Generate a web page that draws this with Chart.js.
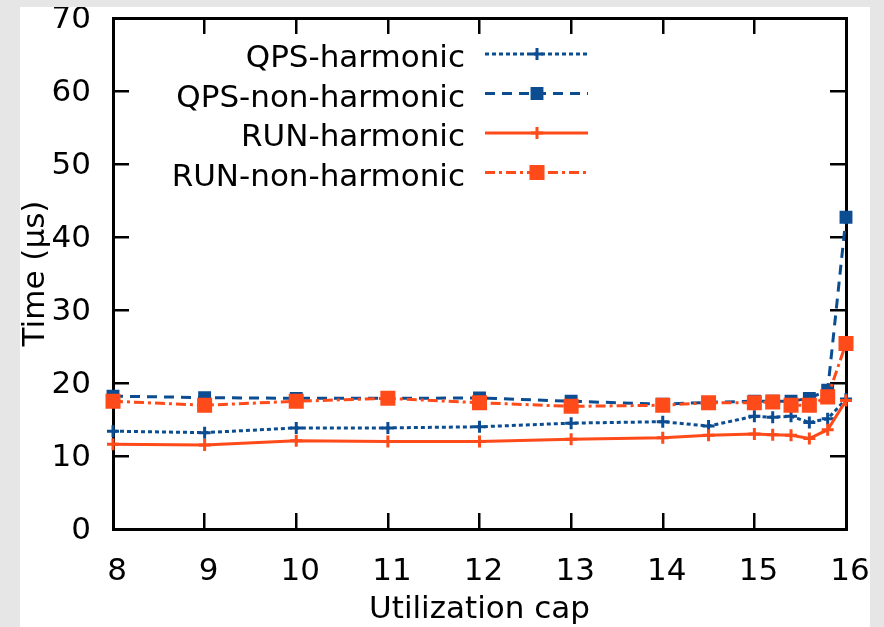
<!DOCTYPE html>
<html lang="en">
<head>
  <meta charset="UTF-8">
  <title>Time vs utilization cap</title>
  <script src="https://cdn.jsdelivr.net/npm/chart.js"></script>
  <style>
    body { margin: 0; background: #e6e6e6; }
    #box { position: absolute; left: 20px; top: 7px; width: 850px; height: 620px; background: #fff; }
  </style>
</head>
<body>
  <div id="box"><canvas id="timeChart"></canvas></div>

  <script>
    // utilization cap values (x) shared by all series
    const caps = [8, 9, 10, 11, 12, 13, 14, 14.5, 15, 15.2, 15.4, 15.6, 15.8, 16];

    // time in microseconds
    const qpsHarmonic    = [13.4, 13.2, 13.85, 13.85, 14.0, 14.5, 14.7, 14.1, 15.45, 15.3, 15.45, 14.6, 15.1, 17.8];
    const qpsNonHarmonic = [18.2, 18.0, 17.9, 17.9, 17.95, 17.5, 17.1, 17.35, 17.5, 17.5, 17.5, 17.9, 19.0, 42.7];
    const runHarmonic    = [11.6, 11.5, 12.1, 12.0, 12.0, 12.3, 12.5, 12.85, 13.0, 12.9, 12.85, 12.4, 13.6, 17.6];
    const runNonHarmonic = [17.5, 16.95, 17.5, 17.9, 17.3, 16.8, 16.95, 17.3, 17.3, 17.4, 16.95, 16.95, 18.1, 25.4];

    const xTicks = [8, 16, 1];   // min, max, step
    const yTicks = [0, 70, 10];

    const BLUE = '#0c4d92';
    const ORANGE = '#ff4a1a';
    const FONT = '"DejaVu Sans", sans-serif';

    const pts = vals => vals.map((v, i) => ({ x: caps[i], y: v }));

    function series(label, vals, color, dash, style, radius, order) {
      return {
        label: label,
        data: pts(vals),
        borderColor: color,
        backgroundColor: color,
        borderWidth: 3,
        borderDash: dash,
        pointStyle: style,
        pointRadius: radius,
        pointBorderWidth: 3,
        pointBorderColor: color,
        pointBackgroundColor: color,
        tension: 0,
        clip: false,
        order: order
      };
    }

    // legend drawn gnuplot-style: text on the left, sample on the right
    const keyPlugin = {
      id: 'key',
      afterDraw(chart) {
        const ctx = chart.ctx;
        chart.data.datasets.forEach((ds, i) => {
          const base = 60 + i * 39.5;
          const ly = base - 13;
          ctx.save();
          ctx.font = '31px ' + FONT;
          ctx.fillStyle = '#000';
          ctx.textAlign = 'right';
          ctx.textBaseline = 'alphabetic';
          ctx.fillText(ds.label, 445, base);
          ctx.strokeStyle = ds.borderColor;
          ctx.lineWidth = ds.borderWidth;
          ctx.setLineDash(ds.borderDash);
          ctx.beginPath();
          ctx.moveTo(465, ly);
          ctx.lineTo(568, ly);
          ctx.stroke();
          ctx.setLineDash([]);
          ctx.fillStyle = ds.pointBackgroundColor;
          ctx.strokeStyle = ds.pointBorderColor;
          ctx.lineWidth = ds.pointBorderWidth;
          Chart.helpers.drawPoint(ctx, {
            pointStyle: ds.pointStyle, radius: ds.pointRadius,
            borderWidth: ds.pointBorderWidth, rotation: 0
          }, 517, ly);
          ctx.restore();
        });
      }
    };

    const gridOpts = { drawOnChartArea: false, color: '#000', lineWidth: 2.5, tickLength: -16 };
    const borderOpts = { color: '#000', width: 3 };

    // fixed box sizes; drop the label overflow padding chart.js adds
    const fitX = h => s => { s.height = h; s.paddingLeft = 0; s.paddingRight = 0; };
    const fitY = w => s => { s.width = w; s.paddingTop = 0; s.paddingBottom = 0; };

    const ctx = document.getElementById('timeChart').getContext('2d');
    const chart = new Chart(ctx, {
      type: 'line',
      data: {
        datasets: [
          series('QPS-harmonic', qpsHarmonic, BLUE, [4, 3], 'cross', 6, 4),
          series('QPS-non-harmonic', qpsNonHarmonic, BLUE, [10, 7], 'rect', 7, 3),
          series('RUN-harmonic', runHarmonic, ORANGE, [], 'cross', 6, 2),
          series('RUN-non-harmonic', runNonHarmonic, ORANGE, [10, 4, 3, 4], 'rect', 8.5, 1)
        ]
      },
      options: {
        animation: false,
        responsive: true,
        maintainAspectRatio: false,
        layout: { padding: 0, autoPadding: false },
        plugins: { legend: { display: false }, tooltip: { enabled: false } },
        scales: {
          x: {
            type: 'linear', position: 'bottom',
            min: xTicks[0], max: xTicks[1],
            ticks: { stepSize: xTicks[2], color: '#000', padding: 43, labelOffset: 4,
                     font: { family: FONT, size: 31, lineHeight: 1 } },
            grid: gridOpts, border: borderOpts,
            title: { display: true, text: 'Utilization cap', color: '#000',
                     font: { family: FONT, size: 31, lineHeight: 1 }, padding: { top: 0, bottom: 2 } },
            afterFit: fitX(98)
          },
          x2: {
            type: 'linear', position: 'top',
            min: xTicks[0], max: xTicks[1],
            ticks: { stepSize: xTicks[2], display: false },
            grid: gridOpts, border: borderOpts,
            afterFit: fitX(11)
          },
          y: {
            type: 'linear', position: 'left',
            min: yTicks[0], max: yTicks[1],
            ticks: { stepSize: yTicks[2], color: '#000', padding: 38, labelOffset: 2,
                     font: { family: FONT, size: 31, lineHeight: 1 } },
            grid: gridOpts, border: borderOpts,
            title: { display: true, text: 'Time (µs)', color: '#000',
                     font: { family: FONT, size: 31, lineHeight: 1 }, padding: 0 },
            afterFit: fitY(93)
          },
          y2: {
            type: 'linear', position: 'right',
            min: yTicks[0], max: yTicks[1],
            ticks: { stepSize: yTicks[2], display: false },
            grid: gridOpts, border: borderOpts,
            afterFit: fitY(24)
          }
        }
      },
      plugins: [keyPlugin]
    });
  </script>
</body>
</html>
